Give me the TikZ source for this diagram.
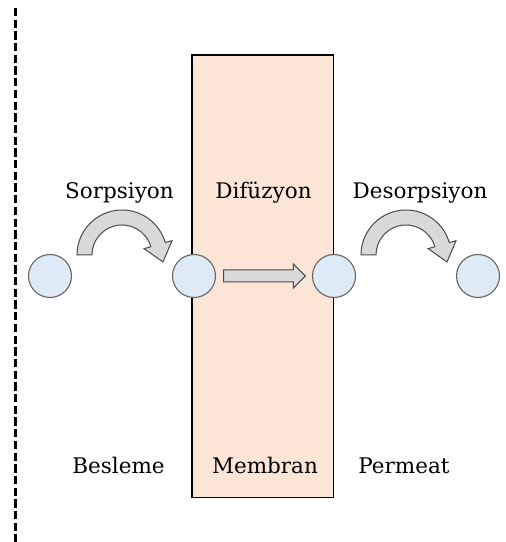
\documentclass[tikz,border=0pt]{standalone}
\usepackage{fontspec}
\setmainfont{DejaVu Serif}
\usetikzlibrary{calc}
\definecolor{membfill}{HTML}{FBE5D6}
\definecolor{molfill}{HTML}{DEEBF7}
\definecolor{molline}{HTML}{646464}
\definecolor{arrfill}{HTML}{D9D9D9}
\definecolor{arrline}{HTML}{4A4A4A}
\tikzset{
  molecule/.style={circle, draw=molline, fill=molfill, line width=1.1pt, minimum size=43pt, inner sep=0pt},
  label/.style={anchor=base, inner sep=0pt, font=\fontsize{21.5}{25}\selectfont},
  blockarrow/.style={draw=arrline, fill=arrfill, line width=1pt, line join=miter},
}
\begin{document}
\begin{tikzpicture}[x=1pt, y=1pt]
  \useasboundingbox (0,0) rectangle (506,542);
  % boundary of the feed side
  \draw[line width=3pt, dash pattern=on 8.3pt off 3.4pt] (15.5,534) -- (15.5,0);
  % membrane
  \node[draw=black, fill=membfill, line width=1.3pt, inner sep=0pt,
        minimum width=141.3pt, minimum height=442.5pt] (memb) at (262.7,265.75) {};
  % molecules
  \node[molecule] (m1) at (50,266) {};
  \node[molecule] (m2) at (194,266) {};
  \node[molecule] (m3) at (334,266) {};
  \node[molecule] (m4) at (478,266) {};
  % curved block arrows for sorption and desorption
  \foreach \cx in {122,406} {
    \coordinate (c) at (\cx,287);
    \draw[blockarrow]
      ($(c)+(180:45)$) arc[start angle=180, end angle=16, radius=45]
      -- ($(c)+(16:52)$)
      -- ($(c)+(16:37.5)+(-74:18)$)
      -- ($(c)+(16:23)$)
      -- ($(c)+(16:30)$) arc[start angle=16, end angle=180, radius=30]
      -- cycle;
  }
  % straight block arrow for diffusion
  \coordinate (ds) at ($(m2.east)+(7.5,0)$);
  \coordinate (dt) at ($(m3.west)+(-6.5,0)$);
  \draw[blockarrow]
    ($(ds)+(0,6)$) -- ($(dt)+(-12,6)$) -- ($(dt)+(-12,12)$) -- (dt)
    -- ($(dt)+(-12,-12)$) -- ($(dt)+(-12,-6)$) -- ($(ds)+(0,-6)$) -- cycle;
  % labels
  \node[label] (l1) at (119.5,343) {Sorpsiyon};
  \node[label] (l2) at (263.5,343) {Difüzyon};
  \node[label] (l3) at (420,343) {Desorpsiyon};
  \node[label] (l4) at (118.5,68) {Besleme};
  \node[label] (l5) at (265,68) {Membran};
  \node[label] (l6) at (404,68) {Permeat};
\end{tikzpicture}
\end{document}
